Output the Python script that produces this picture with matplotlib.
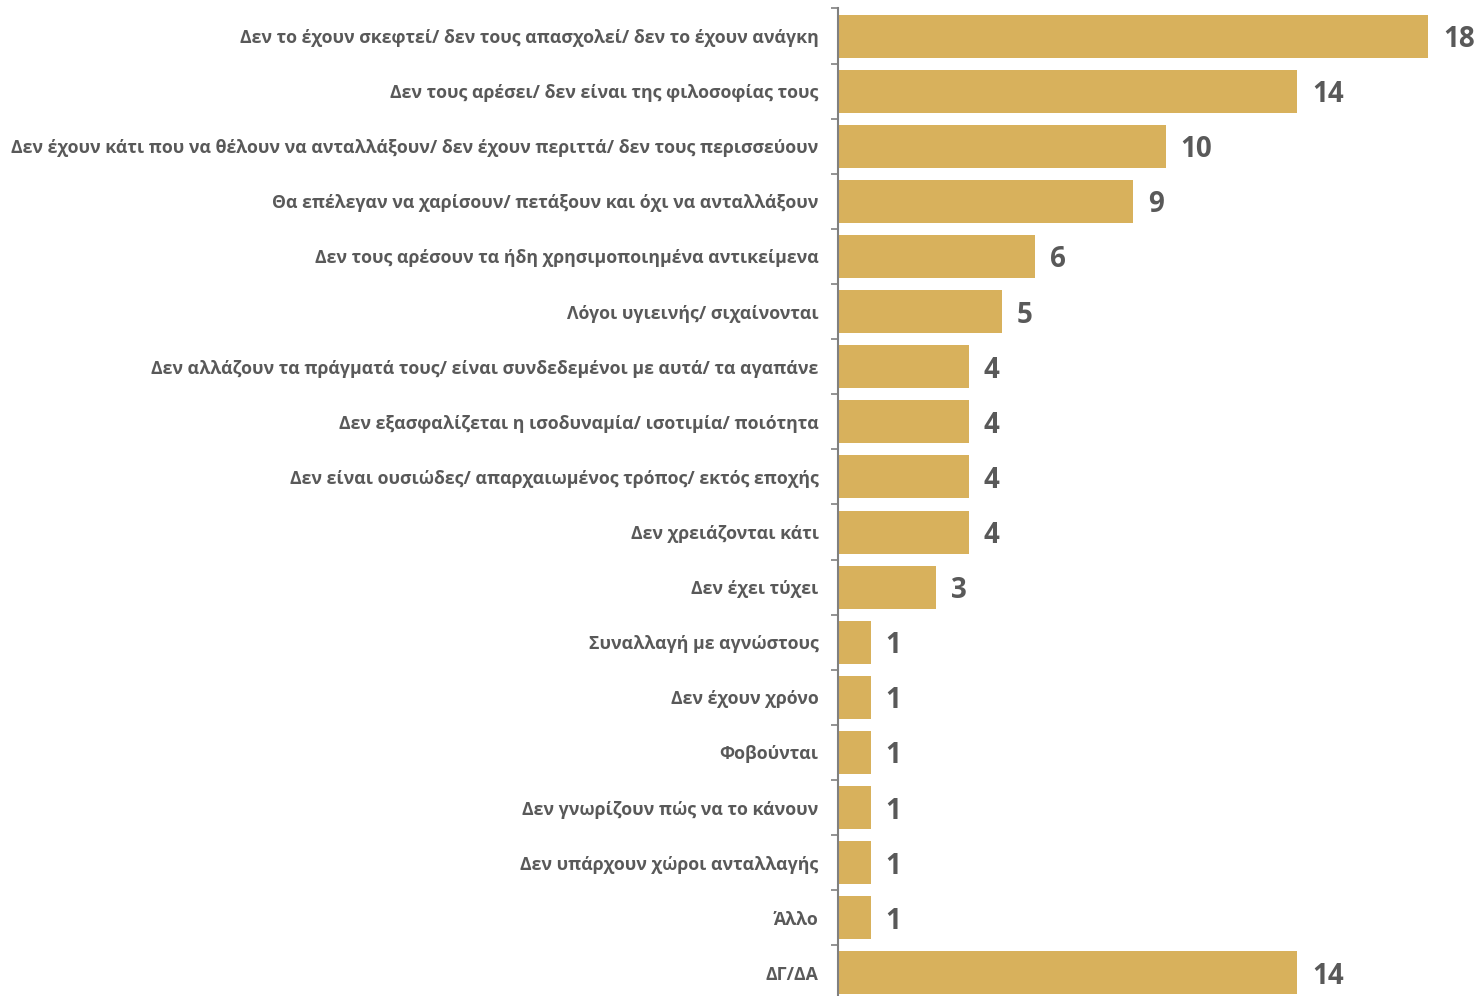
import matplotlib.pyplot as plt
import numpy as np

plt.rcParams['font.family'] = ['Open Sans', 'DejaVu Sans']

categories = [
    'Δεν το έχουν σκεφτεί/ δεν τους απασχολεί/ δεν το έχουν ανάγκη',
    'Δεν τους αρέσει/ δεν είναι της φιλοσοφίας τους',
    'Δεν έχουν κάτι που να θέλουν να ανταλλάξουν/ δεν έχουν περιττά/ δεν τους περισσεύουν',
    'Θα επέλεγαν να χαρίσουν/ πετάξουν και όχι να ανταλλάξουν',
    'Δεν τους αρέσουν τα ήδη χρησιμοποιημένα αντικείμενα',
    'Λόγοι υγιεινής/ σιχαίνονται',
    'Δεν αλλάζουν τα πράγματά τους/ είναι συνδεδεμένοι με αυτά/ τα αγαπάνε',
    'Δεν εξασφαλίζεται η ισοδυναμία/ ισοτιμία/ ποιότητα',
    'Δεν είναι ουσιώδες/ απαρχαιωμένος τρόπος/ εκτός εποχής',
    'Δεν χρειάζονται κάτι',
    'Δεν έχει τύχει',
    'Συναλλαγή με αγνώστους',
    'Δεν έχουν χρόνο',
    'Φοβούνται',
    'Δεν γνωρίζουν πώς να το κάνουν',
    'Δεν υπάρχουν χώροι ανταλλαγής',
    'Άλλο',
    'ΔΓ/ΔΑ',
]
values = [18, 14, 10, 9, 6, 5, 4, 4, 4, 4, 3, 1, 1, 1, 1, 1, 1, 14]

bar_color = '#D8B15C'
text_color = '#595959'

fig = plt.figure(figsize=(14.79, 9.96), dpi=100)
ax = fig.add_axes([0.5666, -0.0045, 0.4334, 0.996])

y = np.arange(len(categories))
ax.barh(y, values, height=0.78, color=bar_color)
ax.set_ylim(len(categories) - 0.5, -0.5)
ax.set_xlim(0, 19.54)

ax.set_yticks(y)
ax.set_yticklabels(categories, fontsize=12.8, fontweight='bold', color=text_color)
ax.tick_params(axis='y', which='major', length=0, pad=14)
ax.set_yticks(np.arange(-0.5, len(categories), 1), minor=True)
ax.tick_params(axis='y', which='minor', length=5, width=1.2, color='#808080', direction='out')
ax.set_xticks([])

for s in ['top', 'right', 'bottom']:
    ax.spines[s].set_visible(False)
ax.spines['left'].set_color('#808080')
ax.spines['left'].set_linewidth(1.5)

for yi, v in zip(y, values):
    ax.text(v + 0.45, yi, str(v), va='center_baseline', ha='left', fontsize=20,
            fontweight='bold', color=text_color)

fig.savefig('out.png', dpi=100, facecolor='white')
